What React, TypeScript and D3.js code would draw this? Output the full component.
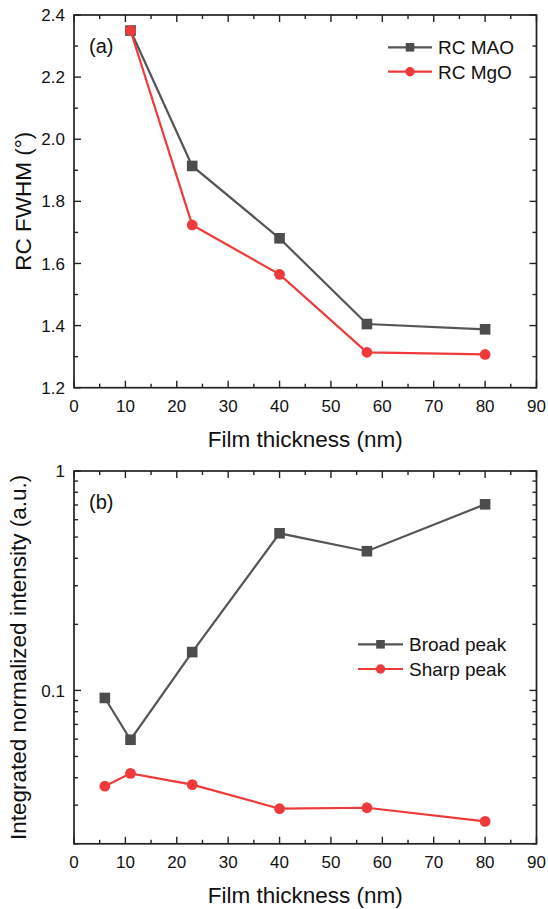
import React from "react";
import * as d3 from "d3";

const thicknessA = [11, 23, 40, 57, 80];
const rcMAO = [2.35, 1.914, 1.681, 1.405, 1.388];
const rcMgO = [2.35, 1.724, 1.565, 1.314, 1.307];

const thicknessB = [6, 11, 23, 40, 57, 80];
const broadPeak = [0.0924, 0.0596, 0.1495, 0.52, 0.431, 0.705];
const sharpPeak = [0.0366, 0.0419, 0.0372, 0.0289, 0.0292, 0.0253];

const xTicks = [0, 10, 20, 30, 40, 50, 60, 70, 80, 90];
const xMinor = [5, 15, 25, 35, 45, 55, 65, 75, 85];
const yTicksA = [1.2, 1.4, 1.6, 1.8, 2.0, 2.2, 2.4];
const yMinorA = [1.3, 1.5, 1.7, 1.9, 2.1, 2.3];
const yTicksB = [0.1, 1];
const yTickLabelsB = ["0.1", "1"];
const yMinorB = [0.02, 0.03, 0.04, 0.05, 0.06, 0.07, 0.08, 0.09, 0.2, 0.3, 0.4, 0.5, 0.6, 0.7, 0.8, 0.9];

const legendA = ["RC MAO", "RC MgO"];
const legendB = ["Broad peak", "Sharp peak"];

const GRAY = "#4d4d4d";
const GRAY_LINE = "#555555";
const RED = "#ee3a3a";
const FONT = "Liberation Sans, Arial, sans-serif";

const X0 = 74;
const X1 = 536.5;
const MAJ = 7;
const MIN = 4;

function Frame({ x, y, yTicks, yLabels, yMinor, xTitle, yTitle, yTitleX, panel }: any) {
  const [top, bottom] = [y.range()[1], y.range()[0]];
  return (
    <g>
      {xTicks.map((t) => (
        <g key={"xt" + t}>
          <line x1={x(t)} x2={x(t)} y1={bottom} y2={bottom - MAJ} stroke="#222" strokeWidth={1.4} />
          <line x1={x(t)} x2={x(t)} y1={top} y2={top + MAJ} stroke="#222" strokeWidth={1.4} />
          <text x={x(t)} y={bottom + 24} textAnchor="middle" fontSize={17} fontFamily={FONT} fill="#111">
            {t}
          </text>
        </g>
      ))}
      {xMinor.map((t) => (
        <g key={"xm" + t}>
          <line x1={x(t)} x2={x(t)} y1={bottom} y2={bottom - MIN} stroke="#222" strokeWidth={1.4} />
          <line x1={x(t)} x2={x(t)} y1={top} y2={top + MIN} stroke="#222" strokeWidth={1.4} />
        </g>
      ))}
      {yTicks.map((t: number, i: number) => (
        <g key={"yt" + t}>
          <line x1={X0} x2={X0 + MAJ} y1={y(t)} y2={y(t)} stroke="#222" strokeWidth={1.4} />
          <line x1={X1} x2={X1 - MAJ} y1={y(t)} y2={y(t)} stroke="#222" strokeWidth={1.4} />
          <text x={65} y={y(t) + 6.1} textAnchor="end" fontSize={17} fontFamily={FONT} fill="#111">
            {yLabels[i]}
          </text>
        </g>
      ))}
      {yMinor.map((t: number) => (
        <g key={"ym" + t}>
          <line x1={X0} x2={X0 + MIN} y1={y(t)} y2={y(t)} stroke="#222" strokeWidth={1.4} />
          <line x1={X1} x2={X1 - MIN} y1={y(t)} y2={y(t)} stroke="#222" strokeWidth={1.4} />
        </g>
      ))}
      <rect x={X0} y={top} width={X1 - X0} height={bottom - top} fill="none" stroke="#222" strokeWidth={1.7} />
      <text x={(X0 + X1) / 2} y={bottom + 59} textAnchor="middle" fontSize={22.5} fontFamily={FONT} fill="#111">
        {xTitle}
      </text>
      <text
        transform={`translate(${yTitleX},${(top + bottom) / 2}) rotate(-90)`}
        textAnchor="middle"
        fontSize={22.5}
        fontFamily={FONT}
        fill="#111"
      >
        {yTitle}
      </text>
      <text x={89} y={top + 38} fontSize={20} fontFamily={FONT} fill="#111">
        {panel}
      </text>
    </g>
  );
}

function Series({ xs, ys, x, y, color, lineColor, shape }: any) {
  const line = d3
    .line<number>()
    .x((_, i) => x(xs[i]))
    .y((d) => y(d));
  return (
    <g>
      <path d={line(ys) || ""} fill="none" stroke={lineColor} strokeWidth={2.2} />
      {ys.map((v: number, i: number) =>
        shape === "square" ? (
          <rect key={i} x={x(xs[i]) - 5.3} y={y(v) - 5.3} width={10.6} height={10.6} fill={color} />
        ) : (
          <circle key={i} cx={x(xs[i])} cy={y(v)} r={5.4} fill={color} />
        )
      )}
    </g>
  );
}

function Legend({ x0, x1, ys, labels }: any) {
  const cx = (x0 + x1) / 2;
  return (
    <g>
      <line x1={x0} x2={x1} y1={ys[0]} y2={ys[0]} stroke={GRAY_LINE} strokeWidth={2.2} />
      <rect x={cx - 4.3} y={ys[0] - 4.3} width={8.6} height={8.6} fill={GRAY} />
      <text x={x1 + 6} y={ys[0] + 6.8} fontSize={19} fontFamily={FONT} fill="#111">
        {labels[0]}
      </text>
      <line x1={x0} x2={x1} y1={ys[1]} y2={ys[1]} stroke={RED} strokeWidth={2.2} />
      <circle cx={cx} cy={ys[1]} r={4.7} fill={RED} />
      <text x={x1 + 6} y={ys[1] + 6.8} fontSize={19} fontFamily={FONT} fill="#111">
        {labels[1]}
      </text>
    </g>
  );
}

export default function App() {
  const x = d3.scaleLinear().domain([0, 90]).range([X0, X1]);
  const yA = d3.scaleLinear().domain([1.2, 2.4]).range([387.7, 15]);
  const yB = d3.scaleLog().domain([0.02, 1]).range([843.8, 471]);

  return (
    <svg
      width={548}
      height={909}
      style={{ position: "absolute", left: 0, top: 0, background: "#fff" }}
    >
      <rect width={548} height={909} fill="#fff" />
      <Frame
        x={x}
        y={yA}
        yTicks={yTicksA}
        yLabels={yTicksA.map((t) => t.toFixed(1))}
        yMinor={yMinorA}
        xTitle="Film thickness (nm)"
        yTitle="RC FWHM (°)"
        yTitleX={30.5}
        panel="(a)"
      />
      <Series xs={thicknessA} ys={rcMAO} x={x} y={yA} color={GRAY} lineColor={GRAY_LINE} shape="square" />
      <Series xs={thicknessA} ys={rcMgO} x={x} y={yA} color={RED} lineColor={RED} shape="circle" />
      <Legend x0={388} x1={432} ys={[47.3, 71.7]} labels={legendA} />

      <Frame
        x={x}
        y={yB}
        yTicks={yTicksB}
        yLabels={yTickLabelsB}
        yMinor={yMinorB}
        xTitle="Film thickness (nm)"
        yTitle="Integrated normalized intensity (a.u.)"
        yTitleX={25.5}
        panel="(b)"
      />
      <Series xs={thicknessB} ys={broadPeak} x={x} y={yB} color={GRAY} lineColor={GRAY_LINE} shape="square" />
      <Series xs={thicknessB} ys={sharpPeak} x={x} y={yB} color={RED} lineColor={RED} shape="circle" />
      <Legend x0={358} x1={403} ys={[644.3, 669]} labels={legendB} />
    </svg>
  );
}
